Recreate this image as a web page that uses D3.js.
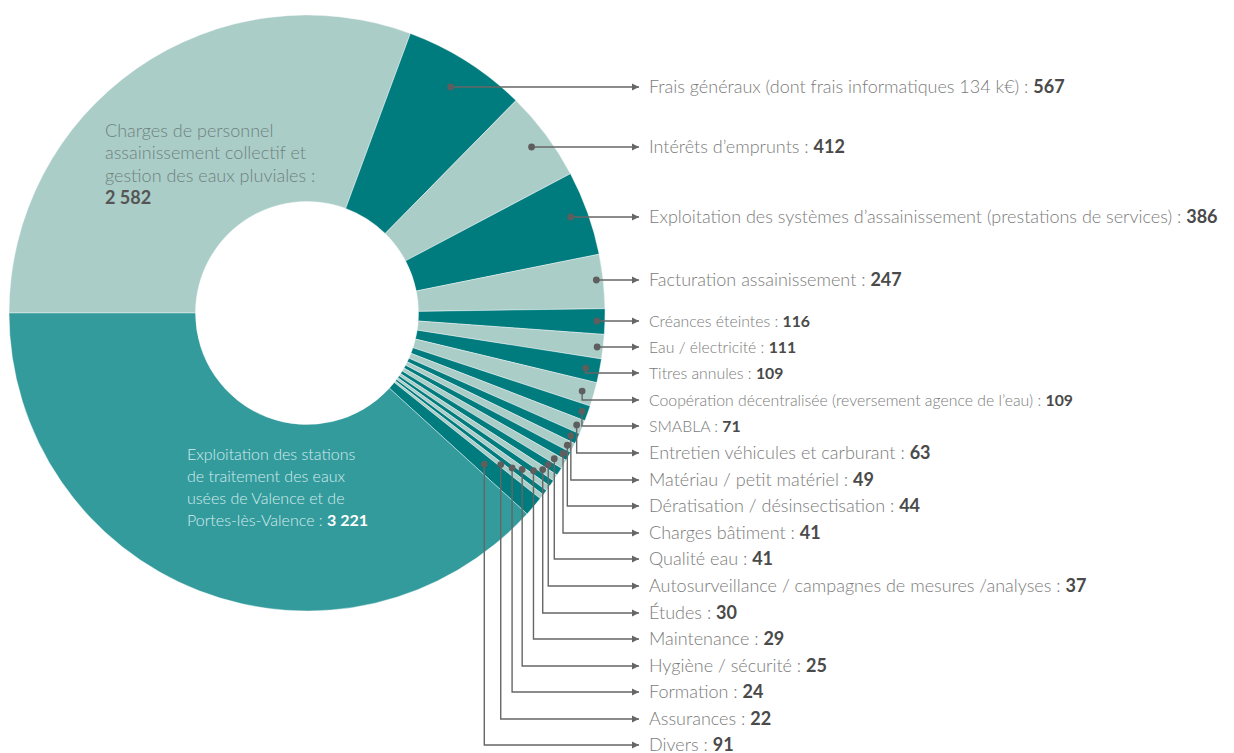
<!DOCTYPE html>
<html>
<head>
<meta charset="utf-8">
<script src="https://cdn.jsdelivr.net/npm/d3@7"></script>
<style>
  html, body { margin: 0; padding: 0; background: #fff; }
  svg { display: block; font-family: Lato, "Open Sans", sans-serif; }
</style>
</head>
<body>
<div id="viz"></div>
<script>
// --- データ (k€) ---
const names = [
  "Charges de personnel assainissement collectif et gestion des eaux pluviales",
  "Frais généraux (dont frais informatiques 134 k€)",
  "Intérêts d’emprunts",
  "Exploitation des systèmes d’assainissement (prestations de services)",
  "Facturation assainissement",
  "Créances éteintes",
  "Eau / électricité",
  "Titres annules",
  "Coopération décentralisée (reversement agence de l’eau)",
  "SMABLA",
  "Entretien véhicules et carburant",
  "Matériau / petit matériel",
  "Dératisation / désinsectisation",
  "Charges bâtiment",
  "Qualité eau",
  "Autosurveillance / campagnes de mesures /analyses",
  "Études",
  "Maintenance",
  "Hygiène / sécurité",
  "Formation",
  "Assurances",
  "Divers",
  "Exploitation des stations de traitement des eaux usées de Valence et de Portes-lès-Valence"
];
const values = [2582, 567, 412, 386, 247, 116, 111, 109, 109, 71, 63, 49, 44, 41, 41, 37, 30, 29, 25, 24, 22, 91, 3221];
const valueText = ["2 582", "567", "412", "386", "247", "116", "111", "109", "109", "71", "63", "49", "44", "41", "41", "37", "30", "29", "25", "24", "22", "91", "3 221"];

// 内側ラベル（改行済み）
const innerPersonnel = ["Charges de personnel", "assainissement collectif et", "gestion des eaux pluviales :"];
const innerStations = ["Exploitation des stations", "de traitement des eaux", "usées de Valence et de", "Portes-lès-Valence : "];

// --- レイアウト（外側ラベル用） ---
const labelY = [87, 147, 217, 280, 321, 347, 373, 400, 426, 453, 480, 506, 533, 559, 586, 613, 639, 666, 692, 719, 745];
const dotR   = [268, 280, 280, 291, 290, 292, 284, 286, 292, 292, 291, 292, 292, 287, 285, 283, 276, 266, 257, 246, 233];
const smallIdx = new Set([5, 6, 7, 8, 9]);

const W = 1234, H = 753;
const cx = 307, cy = 313, R = 298, r0 = 111.5;
const cLight = "#aacdc8", cDark = "#007b7e", cMid = "#349b9d";
const lineCol = "#666";

const svg = d3.select("#viz").append("svg").attr("width", W).attr("height", H);

svg.append("defs").append("marker")
  .attr("id", "arr")
  .attr("viewBox", "0 0 10 10")
  .attr("refX", 10).attr("refY", 5)
  .attr("markerWidth", 7).attr("markerHeight", 8)
  .attr("markerUnits", "userSpaceOnUse")
  .attr("orient", "auto")
  .append("path").attr("d", "M0,0 L10,5 L0,10 Z").attr("fill", lineCol);

const data = names.map((n, i) => ({ name: n, v: values[i], t: valueText[i], i }));

const pie = d3.pie().sort(null).value(d => d.v)
  .startAngle(-Math.PI / 2).endAngle(Math.PI * 1.5);
const arcs = pie(data);
const arc = d3.arc().innerRadius(r0).outerRadius(R);

const g = svg.append("g").attr("transform", `translate(${cx},${cy})`);

g.selectAll("path.slice")
  .data(arcs)
  .enter().append("path")
  .attr("class", "slice")
  .attr("d", arc)
  .attr("fill", d => d.data.i === names.length - 1 ? cMid : (d.data.i % 2 === 0 ? cLight : cDark))
  .attr("stroke", "#fff")
  .attr("stroke-width", 0.4);

// --- 外側ラベル ---
const outer = arcs.slice(1, names.length - 1);
const arrowX = 639, textX = 649;

outer.forEach((d, k) => {
  const a = (d.startAngle + d.endAngle) / 2;
  const rr = dotR[k];
  let x = cx + rr * Math.sin(a);
  let y = cy - rr * Math.cos(a);
  const ly = labelY[k];
  if (Math.abs(y - ly) < 3) y = ly;

  svg.append("path")
    .attr("d", `M${x},${y} V${ly} H${arrowX}`)
    .attr("fill", "none")
    .attr("stroke", lineCol)
    .attr("stroke-width", 1.4)
    .attr("marker-end", "url(#arr)");

  svg.append("circle").attr("cx", x).attr("cy", y).attr("r", 3.4).attr("fill", "#5e5e5e");

  const small = smallIdx.has(d.data.i);
  const t = svg.append("text")
    .attr("x", textX).attr("y", ly).attr("dy", "0.35em")
    .style("font-size", small ? "15.8px" : "18px");
  t.append("tspan").attr("fill", "#7b7b7b").style("font-weight", 300).text(d.data.name + " : ");
  t.append("tspan").attr("fill", "#4a4a4a").style("font-weight", 700).text(d.data.t);
});

// --- 内側ラベル ---
const tp = svg.append("text").style("font-size", "18px");
innerPersonnel.forEach((s, j) => {
  tp.append("tspan").attr("x", 105).attr("y", 137 + j * 22.3)
    .attr("fill", "#6f817e").style("font-weight", 300).text(s);
});
tp.append("tspan").attr("x", 105).attr("y", 137 + 3 * 22.3)
  .attr("fill", "#555").style("font-weight", 700).text(valueText[0]);

const ts = svg.append("text").style("font-size", "16px");
innerStations.forEach((s, j) => {
  ts.append("tspan").attr("x", 187).attr("y", 460 + j * 22)
    .attr("fill", "#d3ecec").style("font-weight", 300).text(s);
});
ts.append("tspan").attr("fill", "#fff").style("font-weight", 700).text(valueText[valueText.length - 1]);
</script>
</body>
</html>
